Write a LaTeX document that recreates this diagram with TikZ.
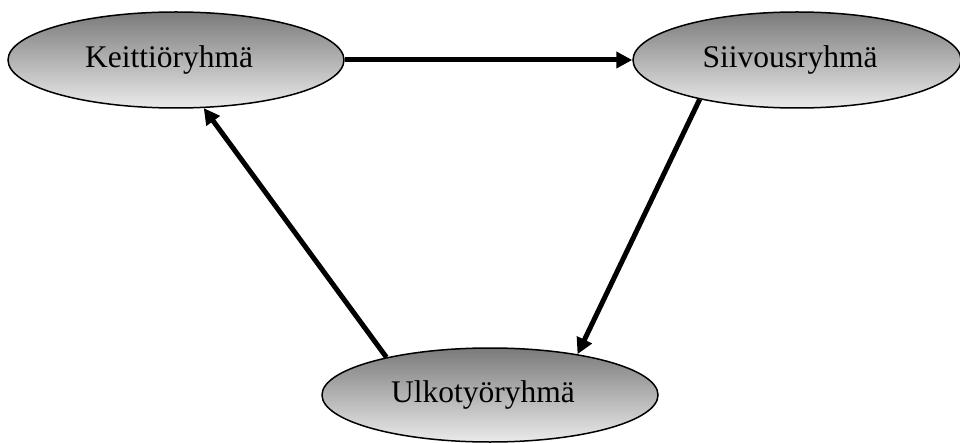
\documentclass[tikz,border=0pt]{standalone}
\usepackage{fontspec}
\setmainfont{Liberation Serif}
\usetikzlibrary{shapes.geometric,arrows.meta}
\newcommand{\grouplabel}[1]{\fontsize{31.5}{34}\selectfont #1\kern14pt}
\begin{document}
\begin{tikzpicture}[x=1pt,y=1pt,
  group/.style={ellipse,draw=black,line width=1.5pt,inner sep=0pt,
    top color=black!52,bottom color=black!8},
  flow/.style={line width=5pt,-{Triangle[length=16pt,width=16pt]}}]
\useasboundingbox (0,0) rectangle (960,442);
\node[group,minimum width=336pt,minimum height=96pt] (k) at (176,382) {\grouplabel{Keittiöryhmä}};
\node[group,minimum width=328pt,minimum height=96pt] (s) at (797,382) {\grouplabel{Siivousryhmä}};
\node[group,minimum width=336pt,minimum height=94pt] (u) at (490,47) {\grouplabel{Ulkotyöryhmä}};
\draw[flow] (k.east) -- (s.west);
\draw[flow] (s.202) -- (u.25);
\draw[flow] (u.160) -- (k.300);
\end{tikzpicture}
\end{document}
